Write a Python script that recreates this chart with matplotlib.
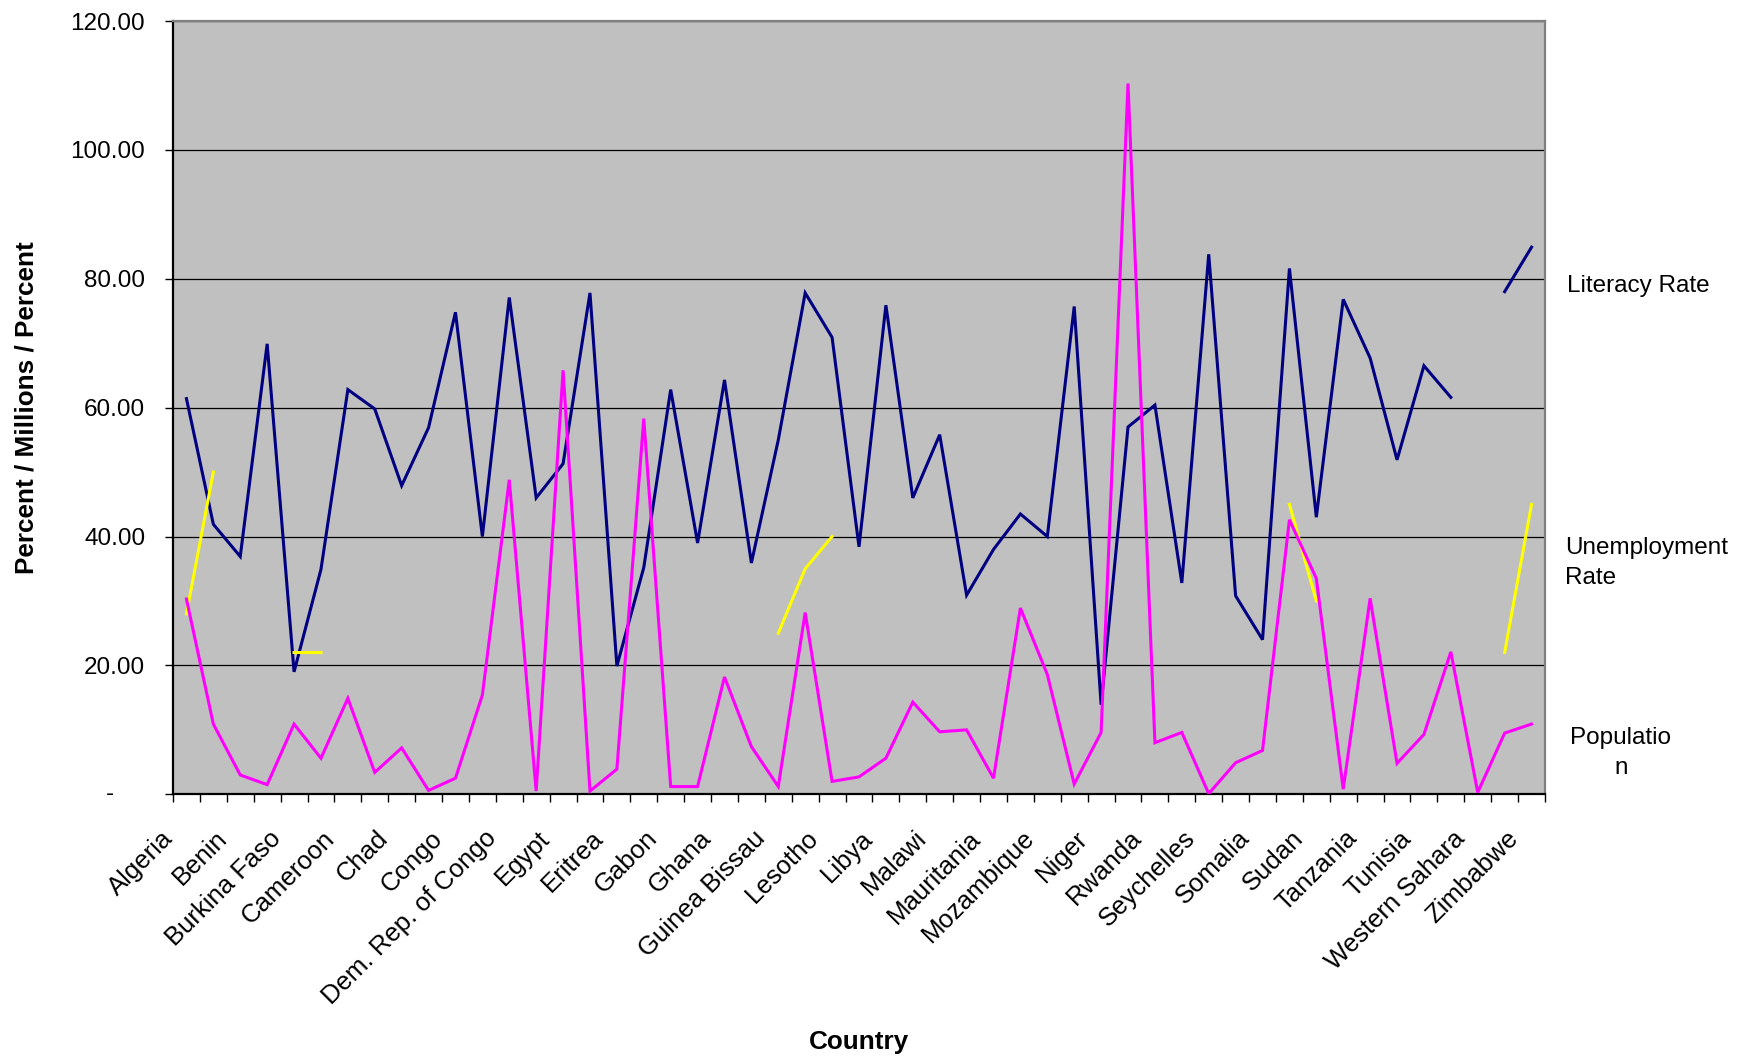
import numpy as np
import matplotlib
matplotlib.use("Agg")
import matplotlib.pyplot as plt
from matplotlib.transforms import ScaledTranslation

plt.rcParams["font.family"] = ["Liberation Sans", "DejaVu Sans"]

nan = np.nan

countries = [
    "Algeria", "Angola", "Benin", "Botswana", "Burkina Faso", "Burundi",
    "Cameroon", "Central African Republic", "Chad", "Comoros", "Congo",
    "Cote d'Ivoire", "Dem. Rep. of Congo", "Djibouti", "Egypt",
    "Equatorial Guinea", "Eritrea", "Ethiopia", "Gabon", "Gambia", "Ghana",
    "Guinea", "Guinea Bissau", "Kenya", "Lesotho", "Liberia", "Libya",
    "Madagascar", "Malawi", "Mali", "Mauritania", "Morocco", "Mozambique",
    "Namibia", "Niger", "Nigeria", "Rwanda", "Senegal", "Seychelles",
    "Sierra Leone", "Somalia", "South Africa", "Sudan", "Swaziland",
    "Tanzania", "Togo", "Tunisia", "Uganda", "Western Sahara", "Zambia",
    "Zimbabwe",
]

literacy_rate = [
    61.4, 41.9, 36.9, 69.9, 19.0, 34.9, 62.8, 59.8, 47.9, 56.9, 74.8, 40.0, 77.1, 46.0,
    51.3, 77.8, 19.9, 35.2, 62.8, 39.0, 64.3, 35.9, 55.0, 77.8, 70.9, 38.4, 75.9, 46.0,
    55.8, 30.9, 38.0, 43.5, 40.0, 75.7, 13.9, 57.0, 60.4, 32.8, 83.8, 30.8, 24.0, 81.6,
    43.0, 76.8, 67.7, 51.9, 66.5, 61.6, nan, 78.0, 84.9,
]

unemployment_rate = [
    28.0, 50.0, nan, nan, 22.0, 22.0, nan, nan, nan, nan, nan, nan, nan, nan,
    nan, nan, nan, nan, nan, nan, nan, nan, 25.0, 35.0, 40.0, nan, nan, nan,
    nan, nan, nan, nan, nan, nan, nan, nan, nan, nan, nan, nan, nan, 45.0,
    30.0, nan, nan, nan, nan, nan, nan, 22.0, 45.0,
]

population = [
    30.3, 10.9, 3.0, 1.5, 10.9, 5.6, 14.9, 3.4, 7.2, 0.6, 2.5, 15.4, 48.8, 0.5,
    65.8, 0.5, 3.9, 58.3, 1.2, 1.2, 18.2, 7.4, 1.2, 28.2, 2.0, 2.7, 5.6, 14.3,
    9.7, 10.0, 2.5, 28.9, 18.6, 1.6, 9.6, 110.3, 8.0, 9.6, 0.1, 4.9, 6.8, 42.6,
    33.5, 0.8, 30.4, 4.8, 9.3, 22.1, 0.3, 9.5, 10.9,
]

y_ticks = [0, 20, 40, 60, 80, 100, 120]
y_tick_labels = ["", "20.00", "40.00", "60.00", "80.00", "100.00", "120.00"]

series_names = ["Literacy Rate", "Unemployment\nRate", "Populatio\nn"]
series_colors = ["#000080", "#FFFF00", "#FF00FF"]

W, H = 1752, 1061
fig = plt.figure(figsize=(W / 100, H / 100), dpi=100)
fig.patch.set_facecolor("white")

left, right, top, bottom = 173, 1545, 21, 794.3
ax = fig.add_axes([left / W, 1 - bottom / H, (right - left) / W, (bottom - top) / H])
ax.set_facecolor("#C0C0C0")

x = np.arange(len(countries))
for i, (vals, col) in enumerate(zip([literacy_rate, unemployment_rate, population], series_colors)):
    ax.plot(x, vals, color=col, lw=2.2, zorder=3 + i, solid_joinstyle="miter")

ax.set_xlim(-0.5, len(countries) - 0.5)
ax.set_ylim(0, 120)

# y axis
ax.set_yticks(y_ticks)
ax.set_yticklabels(y_tick_labels)
ax.tick_params(axis="y", direction="out", length=6, width=1, pad=14, labelsize=17.5)
ax.yaxis.grid(True, color="black", lw=0.9)
ax.set_axisbelow(True)
ax.text(-0.046, 0, "-", transform=ax.get_yaxis_transform(), ha="center", va="center",
        fontsize=17.5)

# x axis: tick marks between categories, labels on every other category
ax.set_xticks(np.arange(-0.5, len(countries), 1.0))
ax.set_xticklabels([])
ax.tick_params(axis="x", which="major", direction="out", length=6, width=1)
label_pos = x[::2]
ax.set_xticks(label_pos, minor=True)
ax.set_xticklabels([countries[i] for i in label_pos], minor=True, rotation=45,
                   ha="right", va="center", rotation_mode="anchor", fontsize=18.5)
ax.tick_params(axis="x", which="minor", length=0, pad=29)
shift = ScaledTranslation(-17 / 100, 0, fig.dpi_scale_trans)
for lbl in ax.get_xticklabels(minor=True):
    lbl.set_transform(lbl.get_transform() + shift)

for side in ["left", "bottom"]:
    ax.spines[side].set_color("black")
    ax.spines[side].set_linewidth(1.6)
for side in ["top", "right"]:
    ax.spines[side].set_color("#808080")
    ax.spines[side].set_linewidth(1.6)

fig.text(27 / W, 1 - 408 / H, "Percent / Millions / Percent", rotation=90,
         ha="center", va="center", fontsize=18.8, fontweight="bold")
fig.text(859 / W, 1 - 1042 / H, "Country", ha="center", va="center",
         fontsize=18.8, fontweight="bold")

# series names at the right
fig.text(1567 / W, 1 - 286 / H, series_names[0], ha="left", va="center", fontsize=17.5)
fig.text(1565 / W, 1 - 563 / H, series_names[1], ha="left", va="center", fontsize=17.5,
         linespacing=1.5)
fig.text(1621 / W, 1 - 753 / H, series_names[2], ha="center", va="center", fontsize=17.5,
         multialignment="center", linespacing=1.5)

fig.savefig("out.png", dpi=100)
